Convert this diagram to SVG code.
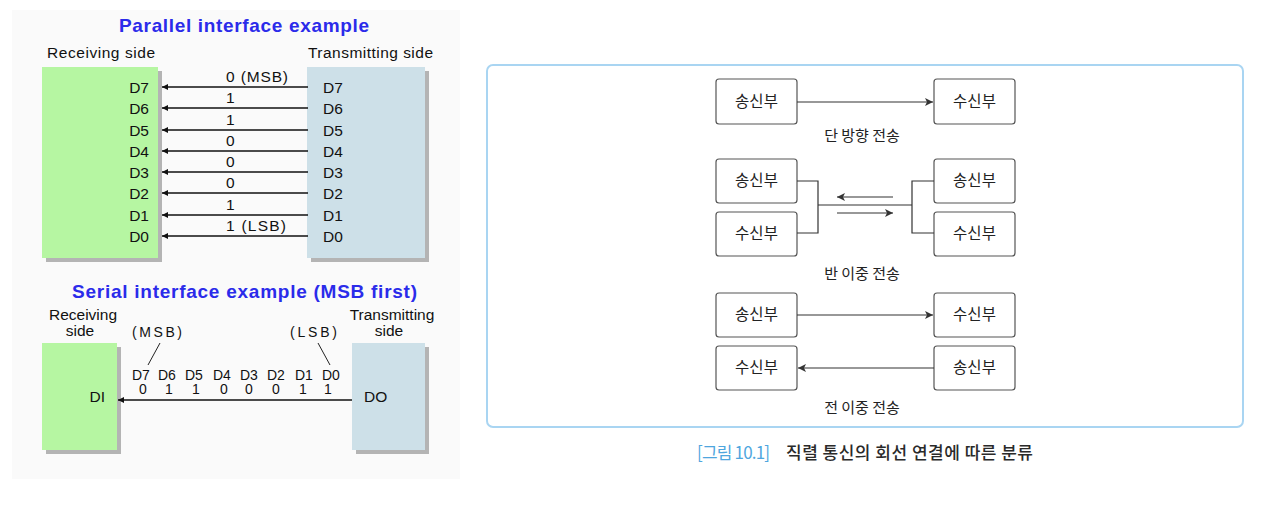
<svg xmlns="http://www.w3.org/2000/svg" width="1270" height="511" viewBox="0 0 1270 511">
<defs>
<marker id="ah" viewBox="0 0 10 10" refX="10" refY="5" markerWidth="8" markerHeight="6" markerUnits="userSpaceOnUse" orient="auto-start-reverse"><path d="M0,0 L10,5 L0,10 Z" fill="#111"/></marker>
<marker id="ak" viewBox="0 0 10 10" refX="10" refY="5" markerWidth="10" markerHeight="8" markerUnits="userSpaceOnUse" orient="auto-start-reverse"><path d="M0,0 L10,5 L0,10 L2.5,5 Z" fill="#333"/></marker>
</defs>
<style>
.t{font-family:"Liberation Sans",Arial,sans-serif;font-size:15.5px;fill:#111}
.s{font-family:"Liberation Sans",Arial,sans-serif;font-size:14px;fill:#111}
.ttl{font-family:"Liberation Sans",Arial,sans-serif;font-size:19px;font-weight:bold;fill:#2b2bea}
.sh{fill:#b4b4b4}
.g{fill:#b6f6a2}
.b{fill:#cde0e8}
.w{stroke:#111;stroke-width:1.3;fill:none}
.kb{fill:#fff;stroke:#555;stroke-width:1.2}
.k{font-family:"Noto Sans CJK KR","Noto Sans",sans-serif;font-size:15.5px;fill:#222}
.kl{font-family:"Noto Sans CJK KR","Noto Sans",sans-serif;font-size:15px;fill:#222}
.kc{stroke:#333;stroke-width:1.2;fill:none}
</style>
<rect width="1270" height="511" fill="#fff"/>
<rect x="12" y="10" width="448" height="469" fill="#fafafa"/>

<g id="parallel">
<text class="ttl" x="119" y="32" textLength="250" lengthAdjust="spacing">Parallel interface example</text>
<text class="t" x="47" y="58" textLength="108" lengthAdjust="spacing">Receiving side</text>
<text class="t" x="308" y="58" textLength="125" lengthAdjust="spacing">Transmitting side</text>
<g id="par-rx"><rect class="sh" x="46" y="71" width="116" height="191"/><rect class="g" x="42" y="67" width="116" height="191"/>
<text class="t" x="149" y="93" text-anchor="end">D7</text><text class="t" x="149" y="114" text-anchor="end">D6</text><text class="t" x="149" y="136" text-anchor="end">D5</text><text class="t" x="149" y="157" text-anchor="end">D4</text><text class="t" x="149" y="178" text-anchor="end">D3</text><text class="t" x="149" y="199" text-anchor="end">D2</text><text class="t" x="149" y="221" text-anchor="end">D1</text><text class="t" x="149" y="242" text-anchor="end">D0</text></g>
<g id="par-tx"><rect class="sh" x="311" y="71" width="118" height="191"/><rect class="b" x="307" y="67" width="118" height="191"/>
<text class="t" x="323" y="93">D7</text><text class="t" x="323" y="114">D6</text><text class="t" x="323" y="136">D5</text><text class="t" x="323" y="157">D4</text><text class="t" x="323" y="178">D3</text><text class="t" x="323" y="199">D2</text><text class="t" x="323" y="221">D1</text><text class="t" x="323" y="242">D0</text></g>
<g id="par-lines">
<line class="w" x1="308" y1="87" x2="162" y2="87" marker-end="url(#ah)"/>
<line class="w" x1="308" y1="108" x2="162" y2="108" marker-end="url(#ah)"/>
<line class="w" x1="308" y1="130" x2="162" y2="130" marker-end="url(#ah)"/>
<line class="w" x1="308" y1="151" x2="162" y2="151" marker-end="url(#ah)"/>
<line class="w" x1="308" y1="172" x2="162" y2="172" marker-end="url(#ah)"/>
<line class="w" x1="308" y1="193" x2="162" y2="193" marker-end="url(#ah)"/>
<line class="w" x1="308" y1="215" x2="162" y2="215" marker-end="url(#ah)"/>
<line class="w" x1="308" y1="236" x2="162" y2="236" marker-end="url(#ah)"/>
</g>
<text class="t" x="226" y="82" textLength="62" lengthAdjust="spacing">0 (MSB)</text>
<text class="t" x="226" y="103">1</text><text class="t" x="226" y="125">1</text><text class="t" x="226" y="146">0</text><text class="t" x="226" y="167">0</text><text class="t" x="226" y="188">0</text><text class="t" x="226" y="210">1</text>
<text class="t" x="226" y="231" textLength="60" lengthAdjust="spacing">1 (LSB)</text>
</g>

<g id="serial">
<text class="ttl" x="72" y="298" textLength="345" lengthAdjust="spacing">Serial interface example (MSB first)</text>
<text class="t" x="83" y="320" text-anchor="middle">Receiving</text>
<text class="t" x="80" y="336" text-anchor="middle">side</text>
<text class="t" x="392" y="320" text-anchor="middle">Transmitting</text>
<text class="t" x="389" y="336" text-anchor="middle">side</text>
<g id="ser-rx"><rect class="sh" x="46" y="347" width="75" height="107"/><rect class="g" x="42" y="343" width="75" height="107"/><text class="t" x="105" y="402" text-anchor="end">DI</text></g>
<g id="ser-tx"><rect class="sh" x="356" y="347" width="73" height="107"/><rect class="b" x="352" y="343" width="73" height="107"/><text class="t" x="364" y="402">DO</text></g>
<line class="w" x1="352" y1="400" x2="118" y2="400" marker-end="url(#ah)"/>
<text class="s" x="132" y="337" textLength="50" lengthAdjust="spacing">(MSB)</text>
<text class="s" x="290" y="337" textLength="47" lengthAdjust="spacing">(LSB)</text>
<line x1="160" y1="343" x2="148" y2="365" stroke="#222" stroke-width="1"/>
<line x1="318" y1="343" x2="330" y2="365" stroke="#222" stroke-width="1"/>
<g>
<text class="s" x="132" y="380">D7</text><text class="s" x="158" y="380">D6</text><text class="s" x="185" y="380">D5</text><text class="s" x="213" y="380">D4</text><text class="s" x="240" y="380">D3</text><text class="s" x="267" y="380">D2</text><text class="s" x="295" y="380">D1</text><text class="s" x="322" y="380">D0</text>
<text class="s" x="143" y="394" text-anchor="middle">0</text><text class="s" x="169" y="394" text-anchor="middle">1</text><text class="s" x="196" y="394" text-anchor="middle">1</text><text class="s" x="224" y="394" text-anchor="middle">0</text><text class="s" x="249" y="394" text-anchor="middle">0</text><text class="s" x="276" y="394" text-anchor="middle">0</text><text class="s" x="303" y="394" text-anchor="middle">1</text><text class="s" x="328" y="394" text-anchor="middle">1</text>
</g>
</g>

<rect x="487" y="65" width="756" height="362" rx="6" fill="#fff" stroke="#a9d5f2" stroke-width="2"/>

<g id="simplex">
<g id="n1"><rect class="kb" x="716" y="79" width="81" height="45" rx="3"/><text class="k" x="756.5" y="107" text-anchor="middle">송신부</text></g>
<g id="n2"><rect class="kb" x="934" y="79" width="81" height="45" rx="3"/><text class="k" x="974.5" y="107" text-anchor="middle">수신부</text></g>
<text class="kl" x="862" y="141" text-anchor="middle">단 방향 전송</text>
</g>
<g id="half">
<g id="n3"><rect class="kb" x="716" y="159" width="81" height="44" rx="3"/><text class="k" x="756.5" y="186" text-anchor="middle">송신부</text></g>
<g id="n4"><rect class="kb" x="716" y="212" width="81" height="44" rx="3"/><text class="k" x="756.5" y="239" text-anchor="middle">수신부</text></g>
<g id="n5"><rect class="kb" x="934" y="159" width="81" height="44" rx="3"/><text class="k" x="974.5" y="186" text-anchor="middle">송신부</text></g>
<g id="n6"><rect class="kb" x="934" y="212" width="81" height="44" rx="3"/><text class="k" x="974.5" y="239" text-anchor="middle">수신부</text></g>
<text class="kl" x="862" y="279" text-anchor="middle">반 이중 전송</text>
</g>
<g id="full">
<g id="n7"><rect class="kb" x="716" y="293" width="81" height="44" rx="3"/><text class="k" x="756.5" y="320" text-anchor="middle">송신부</text></g>
<g id="n8"><rect class="kb" x="934" y="293" width="81" height="44" rx="3"/><text class="k" x="974.5" y="320" text-anchor="middle">수신부</text></g>
<g id="n9"><rect class="kb" x="716" y="346" width="81" height="44" rx="3"/><text class="k" x="756.5" y="373" text-anchor="middle">수신부</text></g>
<g id="n10"><rect class="kb" x="934" y="346" width="81" height="44" rx="3"/><text class="k" x="974.5" y="373" text-anchor="middle">송신부</text></g>
<text class="kl" x="862" y="413" text-anchor="middle">전 이중 전송</text>
</g>

<g id="connectors">
<line class="kc" x1="797" y1="102" x2="933" y2="102" marker-end="url(#ak)"/>
<polyline class="kc" points="797,181 818,181 818,233 797,233"/>
<polyline class="kc" points="934,181 912,181 912,233 934,233"/>
<line class="kc" x1="818" y1="205" x2="912" y2="205"/>
<line class="kc" x1="893" y1="197" x2="837" y2="197" marker-end="url(#ak)"/>
<line class="kc" x1="837" y1="213" x2="893" y2="213" marker-end="url(#ak)"/>
<line class="kc" x1="797" y1="315" x2="933" y2="315" marker-end="url(#ak)"/>
<line class="kc" x1="934" y1="368" x2="798" y2="368" marker-end="url(#ak)"/>
</g>

<text font-family="'Noto Sans CJK KR','Noto Sans',sans-serif" font-size="17" y="459"><tspan x="697" fill="#4fa6de" textLength="73" lengthAdjust="spacing">[그림 10.1]</tspan></text>
<text font-family="'Noto Sans CJK KR','Noto Sans',sans-serif" font-size="17" font-weight="500" y="459" x="786" fill="#2a2a2a" textLength="247" lengthAdjust="spacing">직렬 통신의 회선 연결에 따른 분류</text>
</svg>
